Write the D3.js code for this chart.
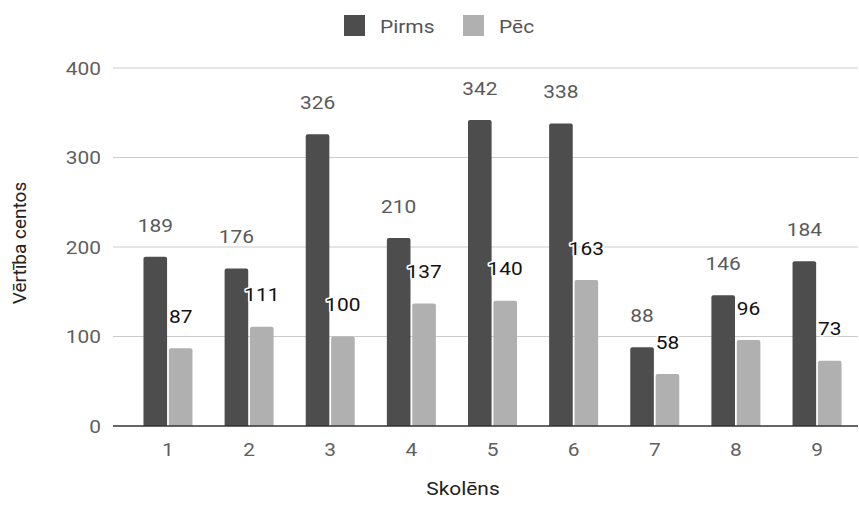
<!DOCTYPE html>
<html>
<head>
<meta charset="utf-8">
<script src="https://cdn.jsdelivr.net/npm/d3@7"></script>
<style>
  html, body { margin: 0; padding: 0; background: #fff; }
  svg { display: block; font-family: Roboto, "Noto Sans", sans-serif; }
</style>
</head>
<body>
<svg id="chart" width="859" height="520"></svg>
<script>
// Students and coin values before / after
const categories = ["1", "2", "3", "4", "5", "6", "7", "8", "9"];
const seriesNames = ["Pirms", "Pēc"];
const pirms = [189, 176, 326, 210, 342, 338, 88, 146, 184];
const pec = [87, 111, 100, 137, 140, 163, 58, 96, 73];
const yTicks = [0, 100, 200, 300, 400];
const colors = ["#4d4d4d", "#b0b0b0"];

const svg = d3.select("#chart");
const plot = { left: 113, right: 858, top: 68, bottom: 426 };
const FS = 19;      // label font size
const SX = 1.1;     // slightly wide lettering

const x = d3.scaleBand().domain(categories).range([127.4, 857.6]);
const xSeries = d3.scaleBand().domain(seriesNames)
  .range([0, 49]).paddingInner(0.07);
const y = d3.scaleLinear().domain([0, 400]).range([plot.bottom, plot.top]);

// Place a text element at (px, py) with widened glyphs
function place(sel, px, py) {
  return sel.attr("x", null).attr("y", null)
    .attr("transform", (d, i, n) => {
      const X = typeof px === "function" ? px(d, i, n) : px;
      const Y = typeof py === "function" ? py(d, i, n) : py;
      return `translate(${X},${Y}) scale(${SX},1)`;
    });
}

// Gridlines and y tick labels
const yAxis = d3.axisLeft(y).tickValues(yTicks).tickSize(0).tickPadding(12);
const gy = svg.append("g").attr("transform", `translate(${plot.left},0)`).call(yAxis);
gy.select(".domain").remove();
gy.selectAll("text").attr("font-size", FS).attr("fill", "#5f5f5f")
  .attr("font-family", "Roboto, sans-serif")
  .attr("transform", `translate(-12,0) scale(${SX},1)`).attr("x", 0);
svg.append("g").selectAll("line").data(yTicks.filter(d => d !== 0)).join("line")
  .attr("x1", plot.left).attr("x2", plot.right)
  .attr("y1", d => y(d)).attr("y2", d => y(d))
  .attr("stroke", "#cccccc").attr("stroke-width", 1);

// Bars with slightly rounded tops
const data = categories.map((c, i) => ({ c, vals: [pirms[i], pec[i]] }));
const r = 2;
function barPath(x0, w, yTop, yBase) {
  return `M${x0},${yBase}V${yTop + r}Q${x0},${yTop} ${x0 + r},${yTop}` +
    `H${x0 + w - r}Q${x0 + w},${yTop} ${x0 + w},${yTop + r}V${yBase}Z`;
}
const groups = svg.append("g").selectAll("g").data(data).join("g")
  .attr("transform", d => `translate(${x(d.c) + x.bandwidth() / 2 - 24.5},0)`);
groups.selectAll("path").data(d => d.vals.map((v, k) => ({ v, k }))).join("path")
  .attr("d", d => barPath(xSeries(seriesNames[d.k]), xSeries.bandwidth(), y(d.v), y(0)))
  .attr("fill", d => colors[d.k]);

// Baseline
svg.append("line").attr("x1", plot.left).attr("x2", plot.right)
  .attr("y1", y(0)).attr("y2", y(0)).attr("stroke", "#333").attr("stroke-width", 1.3);

// Value labels above each bar
const vals = groups.selectAll("text.val").data(d => d.vals.map((v, k) => ({ v, k }))).join("text")
  .attr("class", "val")
  .attr("dy", "0.35em")
  .attr("text-anchor", "middle")
  .attr("font-size", FS)
  .attr("fill", d => d.k === 0 ? "#5a5a5a" : "#111")
  .attr("stroke", "#fff").attr("stroke-width", 3).attr("paint-order", "stroke")
  .attr("stroke-linejoin", "round")
  .text(d => d.v);
place(vals, d => xSeries(seriesNames[d.k]) + xSeries.bandwidth() / 2, d => y(d.v) - 32);

// X tick labels
const xAxis = d3.axisBottom(x).tickSize(0).tickPadding(17);
const gx = svg.append("g").attr("transform", `translate(0,${plot.bottom})`).call(xAxis);
gx.select(".domain").remove();
gx.selectAll("text").attr("font-size", FS).attr("fill", "#5f5f5f")
  .attr("font-family", "Roboto, sans-serif")
  .attr("transform", `scale(${SX},1)`).attr("x", 0);

// Axis titles
place(svg.append("text").attr("text-anchor", "middle")
  .attr("font-size", FS).attr("fill", "#222").text("Skolēns"), 463, 495);
svg.append("text").attr("transform", "translate(26,243) rotate(-90)")
  .attr("text-anchor", "middle").attr("font-size", FS).attr("fill", "#222")
  .text("Vērtība centos");

// Legend
const legend = svg.append("g");
const legendItems = [{ name: seriesNames[0], x: 344 }, { name: seriesNames[1], x: 463 }];
legendItems.forEach((d, k) => {
  legend.append("rect").attr("x", d.x).attr("y", 15).attr("width", 21).attr("height", 21)
    .attr("fill", colors[k]);
  place(legend.append("text").attr("dy", "0.35em")
    .attr("font-size", FS).attr("fill", "#555").text(d.name), d.x + 36, 26);
});
</script>
</body>
</html>
